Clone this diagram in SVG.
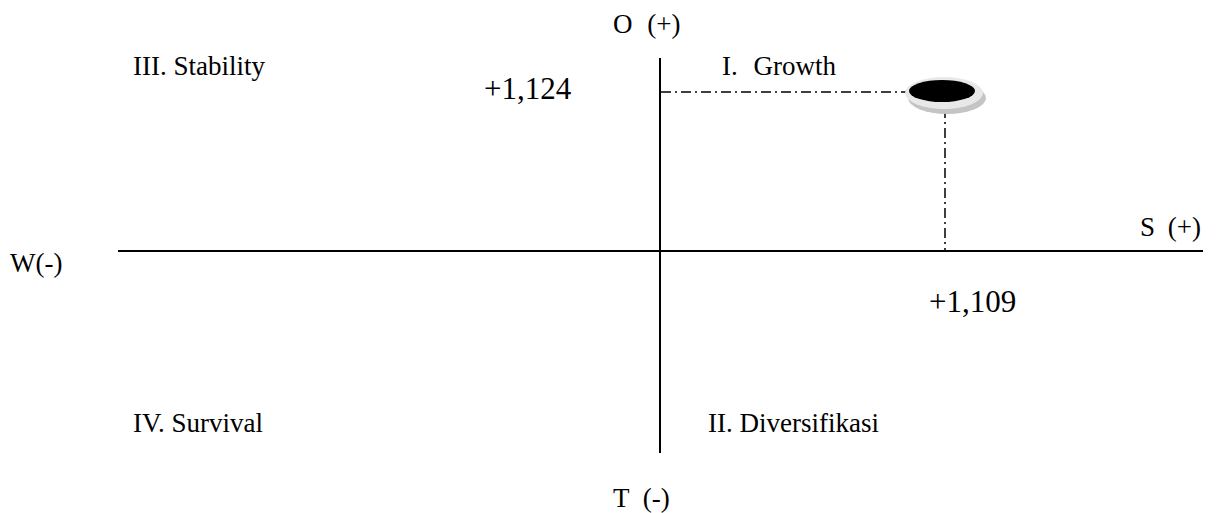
<svg xmlns="http://www.w3.org/2000/svg" width="1223" height="513" viewBox="0 0 1223 513">
<style>
text{font-family:"Liberation Serif","Times New Roman",serif;fill:#000}
.lbl{font-size:27px}
.num{font-size:31px}
.axis{stroke:#000;stroke-width:2;fill:none}
.dash{stroke:#000;stroke-width:1.5;fill:none;stroke-dasharray:10,4,2,4}
</style>
<rect width="1223" height="513" fill="#fff"/>
<g id="connectors">
<line class="axis" x1="660" y1="58" x2="660" y2="453"/>
<line class="axis" x1="118" y1="251" x2="1203" y2="251"/>
<line class="dash" x1="661" y1="92" x2="908" y2="92"/>
<line class="dash" x1="945" y1="108" x2="945" y2="251"/>
</g>
<g id="point">
<ellipse cx="947" cy="98" rx="39" ry="16" fill="#c4c4c4"/>
<ellipse cx="944" cy="93" rx="39" ry="16" fill="#e8e8e8"/>
<ellipse cx="942" cy="91" rx="33" ry="11" fill="#000"/>
</g>
<g id="labels">
<text class="lbl" x="613" y="33" word-spacing="8">O (+)</text>
<text class="lbl" x="133" y="75">III. Stability</text>
<text class="num" x="484" y="99">+1,124</text>
<text class="lbl" x="722" y="75" word-spacing="9">I. Growth</text>
<text class="lbl" x="1140" y="236" word-spacing="6">S (+)</text>
<text class="lbl" x="10" y="272">W(-)</text>
<text class="num" x="929" y="312">+1,109</text>
<text class="lbl" x="133" y="432">IV. Survival</text>
<text class="lbl" x="708" y="432">II. Diversifikasi</text>
<text class="lbl" x="613" y="507" word-spacing="7">T (-)</text>
</g>
</svg>
